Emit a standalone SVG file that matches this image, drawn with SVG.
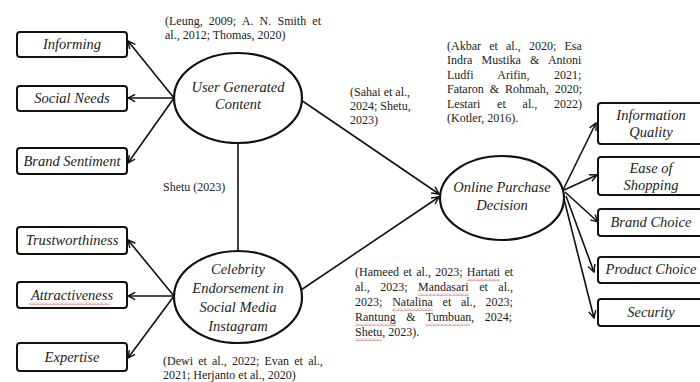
<svg xmlns="http://www.w3.org/2000/svg" width="700" height="382" viewBox="0 0 700 382">
<style>
.box{fill:#fff;stroke:#111;stroke-width:2}
.ell{fill:#fff;stroke:#111;stroke-width:2.2}
.lbl{font-family:"Liberation Serif","Times New Roman",serif;font-style:italic;font-size:14.5px;fill:#222;text-anchor:middle}
.cit{font-family:"Liberation Serif","Times New Roman",serif;font-size:12px;fill:#222}
.con{stroke:#111;stroke-width:1.6;fill:none}
.sq{fill:url(#sqp)}
</style>
<defs>
<marker id="ah" viewBox="0 0 10 10" refX="9" refY="5" markerWidth="9" markerHeight="9" markerUnits="userSpaceOnUse" orient="auto">
<path d="M1,1 L9,5 L1,9" fill="none" stroke="#111" stroke-width="1.6"/>
</marker>
<pattern id="sqp" width="4" height="3" patternUnits="userSpaceOnUse">
<path d="M0,2.5 L2,0.5 L4,2.5" fill="none" stroke="#e03030" stroke-width="0.8"/>
</pattern>
</defs>

<g id="connectors">
<line class="con" x1="174" y1="98" x2="128" y2="41" marker-end="url(#ah)"/>
<line class="con" x1="174" y1="98" x2="128" y2="98" marker-end="url(#ah)" stroke-width="2.4"/>
<line class="con" x1="174" y1="98" x2="128" y2="163" marker-end="url(#ah)"/>
<line class="con" x1="174" y1="296" x2="128" y2="240" marker-end="url(#ah)"/>
<line class="con" x1="174" y1="296" x2="128" y2="296" marker-end="url(#ah)" stroke-width="2.4"/>
<line class="con" x1="174" y1="296" x2="128" y2="358" marker-end="url(#ah)"/>
<line class="con" x1="238" y1="143" x2="238" y2="251" stroke-width="2"/>
<line class="con" x1="301" y1="100" x2="439" y2="194" marker-end="url(#ah)"/>
<line class="con" x1="301" y1="290" x2="439" y2="197" marker-end="url(#ah)"/>
<line class="con" x1="563" y1="190" x2="596" y2="123" marker-end="url(#ah)"/>
<line class="con" x1="564" y1="190" x2="597" y2="175" marker-end="url(#ah)"/>
<line class="con" x1="565" y1="192" x2="598" y2="222" marker-end="url(#ah)"/>
<line class="con" x1="566" y1="196" x2="594" y2="272" marker-end="url(#ah)"/>
<line class="con" x1="564" y1="199" x2="594" y2="318" marker-end="url(#ah)"/>
</g>

<g id="informing"><rect class="box" x="17" y="32" width="110" height="25" rx="3"/><text class="lbl" x="72" y="49">Informing</text></g>
<g id="social-needs"><rect class="box" x="17" y="86" width="110" height="25" rx="3"/><text class="lbl" x="72" y="103">Social Needs</text></g>
<g id="brand-sentiment"><rect class="box" x="17" y="148" width="110" height="26" rx="3"/><text class="lbl" x="72" y="166">Brand Sentiment</text></g>
<g id="trustworthiness"><rect class="box" x="17" y="227" width="110" height="27" rx="3"/><text class="lbl" x="72" y="245">Trustworthiness</text></g>
<g id="attractiveness"><rect class="box" x="17" y="282" width="110" height="26" rx="3"/><text class="lbl" x="72" y="300">Attractiveness</text><rect class="sq" x="29" y="302" width="80" height="3"/></g>
<g id="expertise"><rect class="box" x="17" y="343" width="110" height="28" rx="3"/><text class="lbl" x="72" y="362">Expertise</text></g>

<g id="ugc"><ellipse class="ell" cx="238" cy="98" rx="64" ry="45"/><text class="lbl" x="238" y="92">User Generated</text><text class="lbl" x="238" y="109">Content</text></g>
<g id="celebrity"><ellipse class="ell" cx="238" cy="297" rx="64" ry="46"/><text class="lbl" x="238" y="274">Celebrity</text><text class="lbl" x="238" y="293">Endorsement in</text><text class="lbl" x="238" y="312">Social Media</text><text class="lbl" x="238" y="331">Instagram</text></g>
<g id="opd"><ellipse class="ell" cx="502" cy="198" rx="62" ry="42"/><text class="lbl" x="502" y="192">Online Purchase</text><text class="lbl" x="502" y="210">Decision</text></g>

<g id="information-quality"><rect class="box" x="598" y="103" width="112" height="41" rx="3"/><text class="lbl" x="651" y="120">Information</text><text class="lbl" x="651" y="137">Quality</text></g>
<g id="ease-of-shopping"><rect class="box" x="598" y="157" width="112" height="38" rx="3"/><text class="lbl" x="651" y="173">Ease of</text><text class="lbl" x="651" y="190">Shopping</text></g>
<g id="brand-choice"><rect class="box" x="598" y="209" width="112" height="27" rx="3"/><text class="lbl" x="651" y="227">Brand Choice</text></g>
<g id="product-choice"><rect class="box" x="598" y="257" width="112" height="26" rx="3"/><text class="lbl" x="651" y="274">Product Choice</text></g>
<g id="security"><rect class="box" x="598" y="299" width="112" height="27" rx="3"/><text class="lbl" x="651" y="317">Security</text></g>

<g id="citations">
<text class="cit" x="165" y="25" word-spacing="3.2">(Leung, 2009; A. N. Smith et</text>
<text class="cit" x="165" y="39">al., 2012; Thomas, 2020)</text>
<text class="cit" x="163" y="191" font-size="11">Shetu (2023)</text>
<text class="cit" x="163" y="365" word-spacing="2.2">(Dewi et al., 2022; Evan et al.,</text>
<text class="cit" x="163" y="379">2021; Herjanto et al., 2020)</text>
<text class="cit" x="350" y="96">(Sahai et al.,</text>
<text class="cit" x="350" y="110">2024; Shetu,</text>
<text class="cit" x="350" y="124">2023)</text>
<text class="cit" x="447" y="50" word-spacing="5.2">(Akbar et al., 2020; Esa</text>
<text class="cit" x="447" y="64" word-spacing="6.2">Indra Mustika &amp; Antoni</text>
<text class="cit" x="447" y="79" word-spacing="21.3">Ludfi Arifin, 2021;</text>
<text class="cit" x="447" y="93" word-spacing="3">Fataron &amp; Rohmah, 2020;</text>
<text class="cit" x="447" y="108" word-spacing="13.8">Lestari et al., 2022)</text>
<text class="cit" x="447" y="122">(Kotler, 2016).</text>
<text class="cit" x="355" y="276" word-spacing="1.3">(Hameed et al., 2023; Hartati et</text>
<text class="cit" x="355" y="291" word-spacing="7.5">al., 2023; Mandasari et al.,</text>
<text class="cit" x="355" y="306" word-spacing="6.8">2023; Natalina et al., 2023;</text>
<text class="cit" x="355" y="321" word-spacing="7.5">Rantung &amp; Tumbuan, 2024;</text>
<text class="cit" x="355" y="336">Shetu, 2023).</text>
<rect class="sq" x="467" y="278" width="33" height="3"/>
<rect class="sq" x="418" y="293" width="51" height="3"/>
<rect class="sq" x="392" y="308" width="41" height="3"/>
<rect class="sq" x="355" y="323" width="41" height="3"/>
<rect class="sq" x="426" y="323" width="44" height="3"/>
<rect class="sq" x="355" y="338" width="27" height="3"/>
</g>
</svg>
